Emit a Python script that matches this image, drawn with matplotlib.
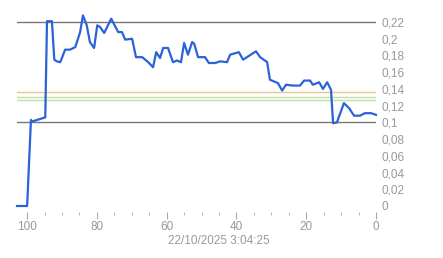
"""Recreate line chart with reversed x axis and right-side y labels"""
import matplotlib
matplotlib.use('Agg')
import matplotlib.pyplot as plt
from matplotlib.ticker import FixedLocator, FuncFormatter

plt.rcParams['font.family'] = ['Liberation Sans', 'DejaVu Sans']

# series (x = age, y = value)
x_vals = [102.9, 100, 98.9, 98.6, 94.8, 94.3, 92.9, 92.2, 91.5, 90.5, 89.1, 87.7,
          86.2, 84.8, 84.0, 82.9, 82.0, 80.8, 79.9, 79.1, 77.9, 75.9, 73.9, 72.8,
          71.9, 69.9, 68.8, 67.0, 65.3, 63.9, 63.0, 61.9, 61.0, 59.6, 58.2, 57.0,
          55.9, 55.0, 53.9, 52.7, 52.1, 51.0, 49.0, 47.9, 46.1, 44.7, 42.7, 41.8,
          39.3, 38.1, 37.0, 34.4, 33.2, 31.2, 30.4, 28.1, 26.9, 25.8, 23.8, 21.8,
          20.6, 18.9, 18.1, 16.3, 15.2, 14.0, 12.9, 12.3, 11.2, 9.2, 7.7, 6.3,
          4.6, 3.2, 1.4, 0]
y_vals = [0, 0, 0.103, 0.101, 0.106, 0.221, 0.221, 0.175, 0.173, 0.172, 0.187, 0.187,
          0.190, 0.208, 0.228, 0.216, 0.196, 0.189, 0.216, 0.214, 0.207, 0.224, 0.208, 0.208,
          0.199, 0.200, 0.178, 0.178, 0.172, 0.166, 0.184, 0.177, 0.189, 0.189, 0.172, 0.174,
          0.172, 0.195, 0.181, 0.196, 0.194, 0.178, 0.178, 0.171, 0.171, 0.173, 0.172, 0.181,
          0.184, 0.175, 0.178, 0.185, 0.178, 0.172, 0.151, 0.147, 0.138, 0.145, 0.144, 0.144,
          0.150, 0.150, 0.145, 0.148, 0.140, 0.148, 0.139, 0.099, 0.100, 0.123, 0.117, 0.108,
          0.108, 0.111, 0.111, 0.109]

gray_levels = [0.22, 0.1]
orange_level = 0.1364
green_levels = [0.1304, 0.1268]

y_ticks = [0, 0.02, 0.04, 0.06, 0.08, 0.1, 0.12, 0.14, 0.16, 0.18, 0.2, 0.22]
x_major = [100, 80, 60, 40, 20, 0]
x_minor = [95, 90, 85, 75, 70, 65, 55, 50, 45, 35, 30, 25, 15, 10, 5]
stamp = '22/10/2025 3:04:25'

fig = plt.figure(figsize=(4.43, 2.58), dpi=100)
ax = fig.add_axes([17/443, 52/258, 359/443, 196.5/258])

for lv in gray_levels:
    ax.axhline(lv, color='#777777', lw=1.0, zorder=1)
ax.axhline(orange_level, color='#e8c88a', lw=1.0, zorder=1)
for lv in green_levels:
    ax.axhline(lv, color='#bfe0a8', lw=1.0, zorder=1)

ax.plot(x_vals, y_vals, color='#2a62d8', lw=1.6, clip_on=False, zorder=3,
        solid_joinstyle='round')

ax.set_xlim(102.9, 0)
ax.set_ylim(0, 0.235)
for s in ax.spines.values():
    s.set_visible(False)

ax.yaxis.tick_right()
ax.yaxis.set_major_locator(FixedLocator(y_ticks))
ax.yaxis.set_major_formatter(FuncFormatter(lambda v, p: ('%g' % round(v, 2)).replace('.', ',')))
ax.tick_params(axis='y', length=0, pad=4, labelsize=8.5, labelcolor='#999999')

ax.xaxis.set_major_locator(FixedLocator(x_major))
ax.xaxis.set_minor_locator(FixedLocator(x_minor))
ax.tick_params(axis='x', which='major', length=5, width=0.8, color='#aaaaaa',
               pad=2, labelsize=8.5, labelcolor='#999999', direction='out')
ax.tick_params(axis='x', which='minor', length=2, width=0.8, color='#bbbbbb')
# push ticks a little below the plot like the original
ax.spines['bottom'].set_position(('outward', 4))

fig.text(219/443, 1 - 241/258, stamp, ha='center', va='center', fontsize=8.5, color='#999999')

plt.savefig('out.png', dpi=100)
